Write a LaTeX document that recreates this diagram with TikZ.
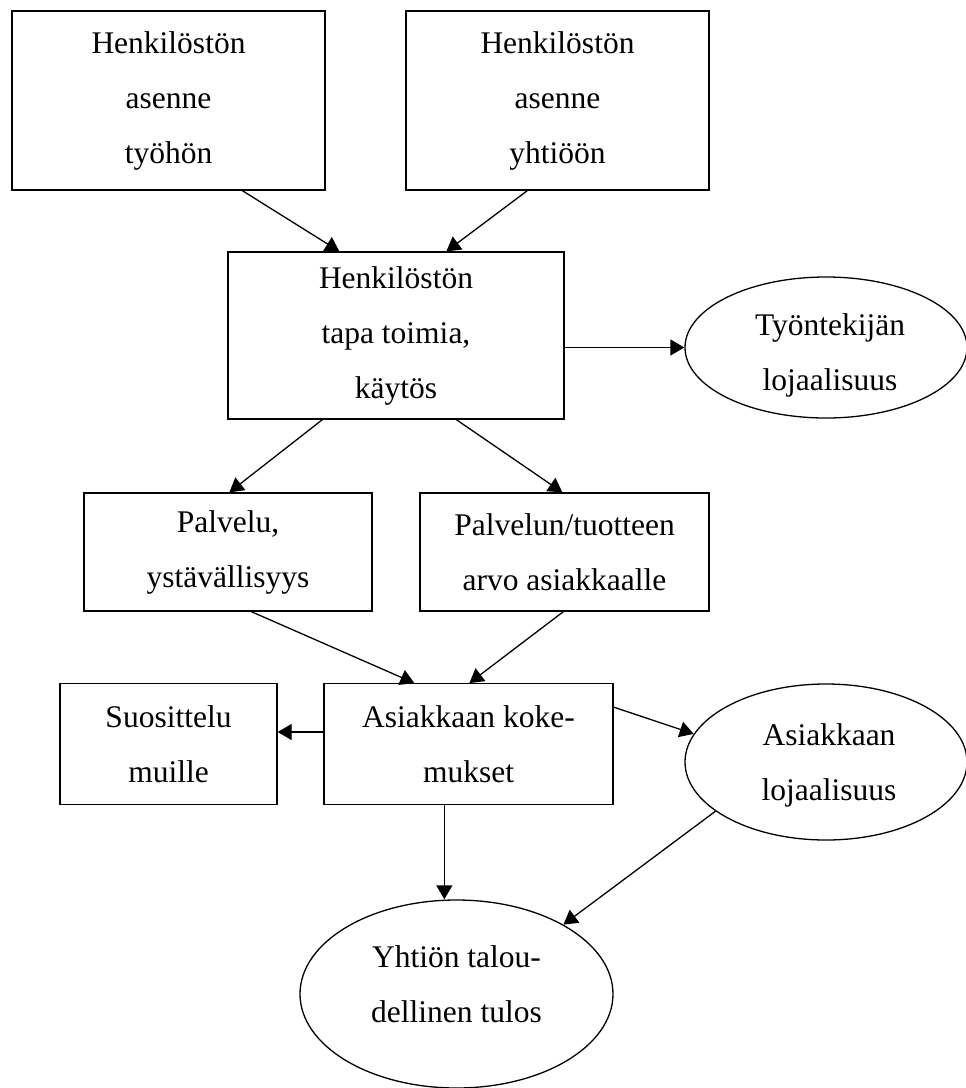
\documentclass[tikz,border=0pt]{standalone}
\usepackage{fontspec}
\setmainfont{Liberation Serif}
\usetikzlibrary{arrows.meta,shapes.geometric,calc}
\begin{document}
\begin{tikzpicture}[x=1pt,y=-1pt,
  every node/.style={font=\fontsize{31.5}{55}\selectfont, align=center},
  box/.style={draw, line width=1.3pt, rectangle, inner sep=0pt},
  oval/.style={draw, line width=1.3pt, ellipse, inner sep=0pt},
  txt/.style={inner sep=0pt},
  arr/.style={line width=1.3pt, -{Triangle[length=14pt,width=16pt]}}]
\useasboundingbox (0,0) rectangle (966,1088);
% boxes
\node[box, minimum width=313pt, minimum height=179pt] (b1) at (168.5,100.5) {Henkilöstön\\asenne\\työhön};
\node[box, minimum width=303pt, minimum height=179pt] (b2) at (557.5,100.5) {Henkilöstön\\asenne\\yhtiöön};
\node[box, minimum width=336pt, minimum height=167pt] (b3) at (396,335.5) {Henkilöstön\\tapa toimia,\\käytös};
\node[box, minimum width=288pt, minimum height=118pt] (b4) at (228,552) {Palvelu,\\ystävällisyys};
\node[box, minimum width=289pt, minimum height=118pt] (b5) at (564.5,552) {Palvelun/tuotteen\\arvo asiakkaalle};
\node[box, minimum width=217pt, minimum height=120.5pt] (b6) at (168.5,744) {Suosittelu\\muille};
\node[box, minimum width=289pt, minimum height=120.5pt] (b7) at (468.5,744) {Asiakkaan koke-\\mukset};
% ellipses
\node[oval, minimum width=282pt, minimum height=141pt] (e1) at (826,347.5) {};
\node[txt] (t1) at ($(e1)+(4,7.5)$) {Työntekijän\\lojaalisuus};
\node[oval, minimum width=282pt, minimum height=156pt] (e2) at (826,762) {};
\node[txt] (t2) at ($(e2)+(3,3)$) {Asiakkaan\\lojaalisuus};
\node[oval, minimum width=313pt, minimum height=188pt] (e3) at (456.5,994) {};
\node[txt] (t3) at ($(e3)+(0,-10)$) {Yhtiön talou-\\dellinen tulos};
% connectors
\draw[arr] ($(b1.south west)+(231,0)$) -- ($(b3.north west)+(112,0)$);
\draw[arr] ($(b2.south west)+(122,0)$) -- ($(b3.north west)+(219,0)$);
\draw[arr] (b3.east |- e1.west) -- (e1.west);
\draw[arr] ($(b3.south west)+(95,0)$) -- ($(b4.north west)+(146,0)$);
\draw[arr] ($(b3.south west)+(229,0)$) -- ($(b5.north west)+(143,0)$);
\draw[arr] ($(b4.south west)+(168,0)$) -- ($(b7.north west)+(91,0)$);
\draw[arr] ($(b5.south west)+(144,0)$) -- ($(b7.north west)+(146,0)$);
\coordinate (a8s) at ($(b7.west)+(0,-12)$);
\draw[arr] (a8s) -- (b6.east |- a8s);
\draw[arr] ($(b7.north east)+(0,24)$) -- (e2.168);
\coordinate (a10s) at ($(b7.south west)+(121,0)$);
\draw[arr] (a10s) -- (a10s |- e3.north);
\draw[arr] (e2.204) -- (e3.33);
\end{tikzpicture}
\end{document}
